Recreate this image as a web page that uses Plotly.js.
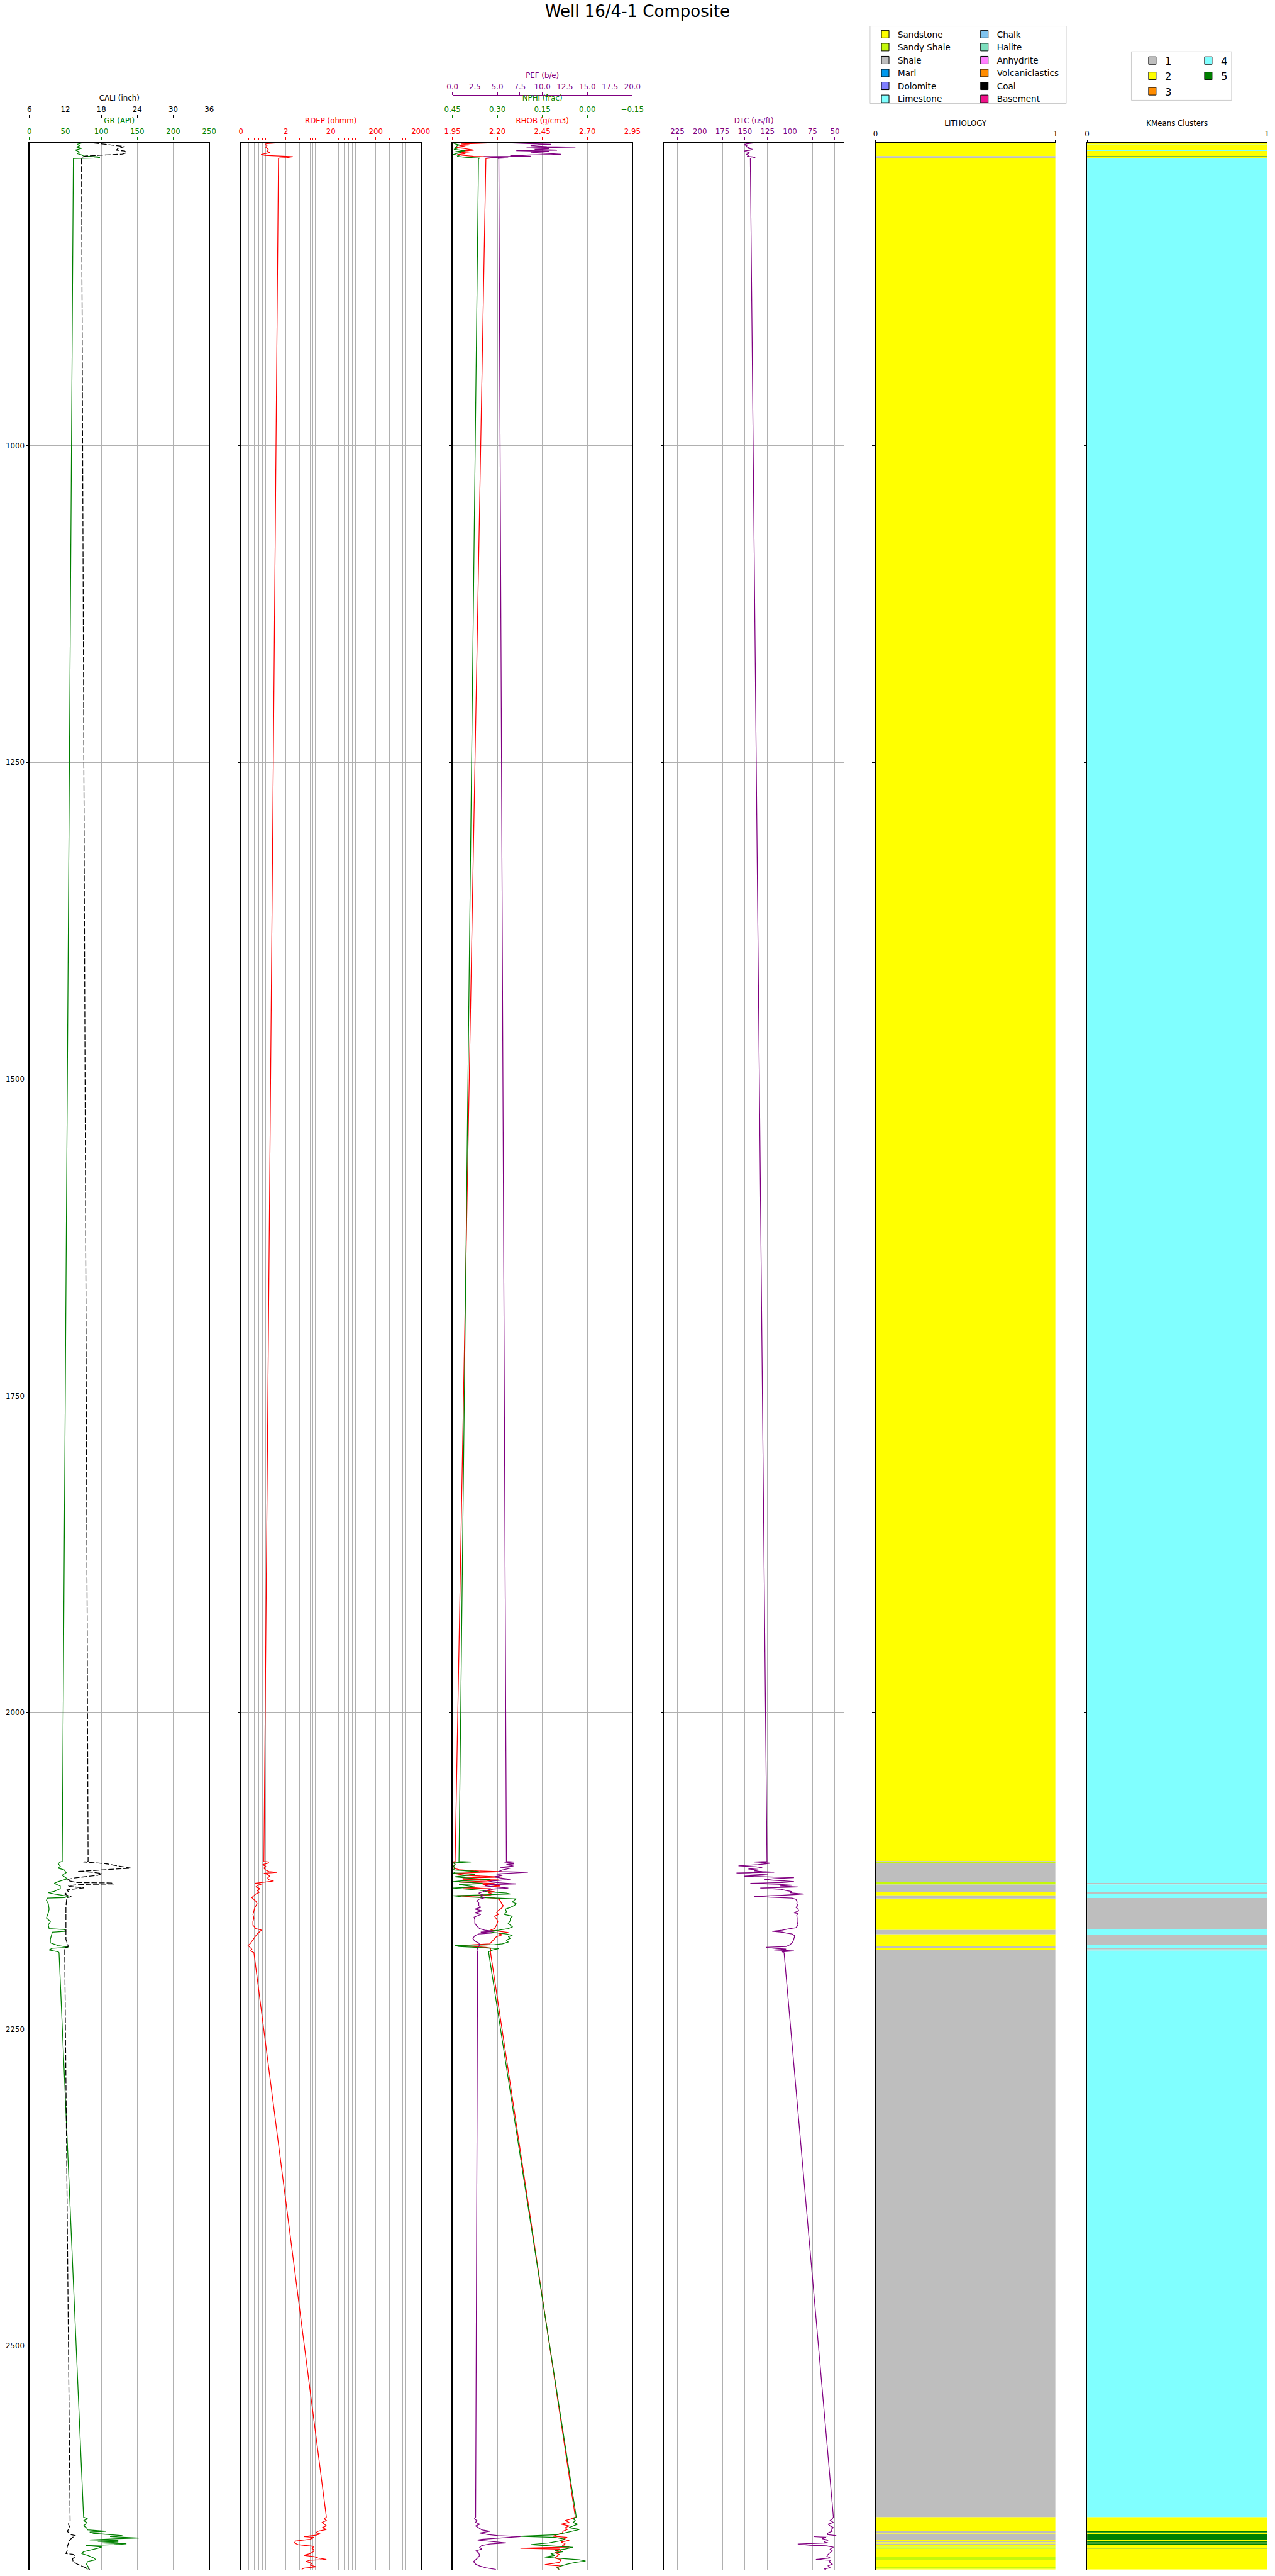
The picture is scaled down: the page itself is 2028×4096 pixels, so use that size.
<!DOCTYPE html>
<html><head><meta charset="utf-8">
<script src="https://cdn.plot.ly/plotly-3.0.1.min.js"></script>
<style>html,body{margin:0;padding:0;background:#fff}#chart{width:2028px;height:4096px}</style>
</head><body><div id="chart"></div>
<script>
// ---------------- DATA (depth m, value) ----------------
const grLog = [[761.1,72.6],[762.1,66.9],[763.2,69.7],[764.3,65.8],[765.3,72.6],[766.7,64.1],[768.1,69.7],[769.5,66.9],[770.5,72.6],[771.4,75.4],[772.0,95.2],[772.6,98.0],[773.0,90.0],[773.3,61.2],
[2117.6,45.7],[2118.0,43.0],[2119.4,40.2],[2121.5,43.0],[2122.9,40.2],[2124.3,48.5],[2126.4,51.2],[2128.5,45.7],[2131.3,52.9],[2133.5,40.2],[2134.9,34.7],[2137.0,43.0],[2139.1,43.0],[2141.2,34.7],[2142.2,26.4],[2143.3,34.7],[2144.0,43.0],[2145.1,54.0],[2146.1,48.5],[2146.5,25.3],[2148.2,23.7],[2151.0,26.4],[2155.2,27.5],[2158.0,26.4],[2162.2,23.7],[2165.0,29.2],[2167.8,26.4],[2170.6,27.5],[2171.3,48.5],[2172.7,51.2],[2173.4,31.9],[2175.5,30.8],[2179.0,29.2],[2181.9,29.2],[2184.0,40.2],[2184.7,48.5],[2185.4,54.0],[2186.1,31.9],[2187.5,27.5],[2188.9,40.2],[2189.6,41.3],
[2635.1,75.4],[2636.5,81.0],[2637.9,75.4],[2639.3,79.4],[2640.7,78.2],[2642.1,75.4],[2643.5,79.4],[2645.2,81.0],[2646.3,106.6],[2647.0,83.9],[2648.0,89.6],[2648.9,107.7],[2649.8,129.3],[2650.5,112.2],[2651.7,151.9],[2652.2,123.6],[2653.1,83.9],[2653.6,123.6],[2654.3,95.2],[2654.8,123.6],[2655.5,100.9],[2656.2,134.9],[2656.9,117.9],[2657.6,78.2],[2658.7,100.9],[2659.7,95.2],[2661.1,83.9],[2662.5,75.4],[2663.9,72.6],[2665.3,81.0],[2667.4,89.6],[2668.8,92.4],[2670.2,81.0],[2672.3,79.4],[2673.7,81.0],[2675.1,82.7],[2675.8,79.4],[2676.5,81.0]];

const caliLog = [[761.1,16.7],[761.8,18.4],[762.5,19.5],[763.9,21.9],[765.3,20.8],[766.7,20.5],[767.4,21.9],[768.8,22.2],[769.9,21.5],[770.5,18.8],[771.4,15.4],[771.9,15.0],[773.0,14.7],
[2117.6,15.8],[2118.0,15.0],[2118.7,17.1],[2119.4,18.8],[2120.8,20.4],[2122.2,22.4],[2122.9,23.0],[2123.6,20.4],[2124.3,18.4],[2125.5,14.1],[2126.0,16.4],[2127.1,18.1],[2128.5,17.4],[2129.7,15.1],[2130.6,13.5],[2131.6,12.5],[2132.5,12.3],[2134.2,13.8],[2134.6,19.7],[2135.3,20.1],[2135.8,14.5],[2136.7,12.5],[2137.4,12.8],[2138.4,15.1],[2139.1,13.8],[2140.0,12.3],[2141.4,12.5],[2143.3,11.9],[2144.7,12.5],[2145.4,13.0],[2146.1,12.3],[2148.2,12.2],[2153.8,12.1],[2162.2,12.1],[2171.3,12.1],[2179.0,12.1],[2184.7,12.5],[2185.8,11.9],[2189.6,11.9],
[2635.1,12.8],[2637.9,12.8],[2640.7,12.5],[2643.5,12.8],[2646.3,12.3],[2649.1,13.0],[2649.8,13.7],[2651.2,13.2],[2653.3,12.7],[2656.2,12.5],[2659.0,12.3],[2661.8,12.3],[2663.9,12.1],[2664.6,13.3],[2666.0,13.7],[2668.1,13.2],[2670.2,13.3],[2672.3,14.0],[2674.4,15.0],[2675.8,15.7],[2676.5,16.1]];

const rdepLog = [[761.1,1.16],[761.5,0.76],[762.1,0.69],[763.2,0.76],[764.6,0.72],[766.0,0.81],[767.4,0.76],[768.6,0.88],[769.5,0.69],[770.2,0.56],[770.9,0.69],[771.4,1.59],[771.9,2.86],[772.6,2.17],[773.0,1.43],[773.5,1.37],
[2117.6,0.65],[2118.0,0.84],[2119.0,0.79],[2120.1,0.61],[2121.5,0.71],[2122.9,0.65],[2124.3,0.71],[2125.5,0.84],[2126.2,1.26],[2126.9,0.65],[2127.8,0.79],[2129.2,0.87],[2130.6,0.79],[2132.0,0.84],[2133.0,1.07],[2133.9,0.69],[2134.9,0.41],[2135.3,0.58],[2136.3,0.48],[2137.7,0.43],[2139.1,0.53],[2140.5,0.46],[2141.9,0.51],[2143.3,0.43],[2144.7,0.39],[2146.1,0.35],[2148.9,0.43],[2151.0,0.46],[2153.8,0.41],[2156.6,0.39],[2159.4,0.37],[2162.2,0.39],[2165.0,0.37],[2167.8,0.37],[2170.6,0.43],[2171.8,0.58],[2172.7,0.53],[2174.1,0.48],[2176.2,0.43],[2178.3,0.39],[2180.5,0.35],[2182.6,0.32],[2184.0,0.29],[2185.4,0.32],[2186.8,0.35],[2188.2,0.33],[2189.6,0.39],
[2635.1,15.9],[2636.5,14.3],[2637.9,15.9],[2639.3,12.9],[2640.7,14.3],[2642.1,15.9],[2643.5,12.9],[2644.9,15.9],[2646.3,10.4],[2647.5,9.4],[2648.4,11.6],[2649.4,9.4],[2650.5,5.0],[2651.2,8.5],[2652.6,6.9],[2654.0,3.3],[2655.5,3.1],[2656.9,3.7],[2658.3,8.5],[2659.7,7.6],[2661.1,8.5],[2662.5,8.1],[2663.9,6.9],[2665.3,5.0],[2666.3,8.5],[2667.4,10.4],[2668.5,15.9],[2669.2,6.9],[2670.2,5.6],[2671.6,7.6],[2673.0,6.9],[2674.4,9.4],[2675.5,5.0],[2676.5,4.5]];

const rhobLog = [[761.1,2.147],[761.8,2.000],[762.5,2.045],[763.2,1.988],[763.9,2.022],[764.6,1.966],[765.3,2.011],[766.7,2.068],[767.4,2.000],[768.1,2.045],[768.8,1.988],[769.5,2.022],[770.2,1.977],[770.9,2.011],[771.6,2.068],[772.0,2.158],[772.6,2.181],[773.0,2.147],[773.5,2.136],
[2117.6,1.965],[2118.0,1.954],[2118.7,1.961],[2119.8,1.965],[2120.8,1.961],[2121.8,1.954],[2122.9,1.954],[2124.1,1.987],[2125.0,2.075],[2125.7,2.228],[2126.3,2.075],[2127.1,1.965],[2128.5,2.020],[2129.2,2.140],[2129.9,2.228],[2130.6,2.009],[2131.6,2.009],[2132.2,2.206],[2133.0,2.140],[2133.9,1.987],[2134.4,2.075],[2135.0,2.184],[2135.6,2.118],[2136.3,2.162],[2137.0,2.217],[2137.7,2.129],[2138.4,2.009],[2139.1,2.162],[2140.0,2.173],[2140.9,2.140],[2141.4,2.184],[2142.3,2.151],[2143.3,2.173],[2144.0,2.162],[2144.7,1.976],[2145.4,2.053],[2146.5,2.184],[2147.5,2.210],[2148.9,2.217],[2151.0,2.224],[2152.4,2.232],[2153.8,2.228],[2155.2,2.217],[2156.6,2.202],[2158.0,2.195],[2159.4,2.206],[2160.8,2.184],[2162.9,2.195],[2165.0,2.202],[2167.8,2.195],[2170.6,2.184],[2171.8,2.162],[2172.7,2.217],[2173.7,2.261],[2174.6,2.206],[2175.5,2.228],[2176.9,2.195],[2179.0,2.180],[2181.2,2.167],[2182.6,2.158],[2184.0,1.987],[2184.7,2.075],[2185.4,2.136],[2186.1,2.162],[2187.5,2.162],[2189.6,2.162],
[2635.1,2.633],[2636.5,2.611],[2637.9,2.577],[2639.3,2.599],[2640.7,2.554],[2642.1,2.599],[2643.5,2.577],[2644.9,2.588],[2646.3,2.565],[2647.7,2.561],[2649.1,2.531],[2650.3,2.509],[2651.2,2.588],[2652.6,2.565],[2653.6,2.599],[2654.8,2.554],[2656.2,2.577],[2657.6,2.561],[2658.7,2.599],[2659.7,2.328],[2660.4,2.543],[2661.8,2.554],[2663.2,2.520],[2664.6,2.543],[2666.0,2.531],[2667.4,2.520],[2668.8,2.554],[2670.9,2.543],[2672.7,2.464],[2673.7,2.554],[2675.1,2.531],[2676.5,2.543]];

const nphiLog = [[761.1,0.447],[761.8,0.440],[762.5,0.427],[763.2,0.434],[764.3,0.440],[765.3,0.434],[766.0,0.445],[767.2,0.407],[767.9,0.440],[768.6,0.420],[769.3,0.434],[770.2,0.447],[770.9,0.427],[771.6,0.434],[772.3,0.407],[773.0,0.359],[773.5,0.363],
[2117.6,0.428],[2118.0,0.388],[2118.7,0.447],[2120.1,0.441],[2121.5,0.447],[2122.9,0.441],[2124.3,0.447],[2125.5,0.362],[2126.0,0.441],[2126.9,0.447],[2127.8,0.375],[2128.8,0.408],[2129.7,0.441],[2130.6,0.401],[2131.3,0.362],[2132.0,0.323],[2132.8,0.415],[2133.5,0.447],[2134.2,0.388],[2135.0,0.349],[2135.8,0.428],[2136.7,0.401],[2137.7,0.375],[2138.6,0.447],[2139.5,0.401],[2140.5,0.349],[2141.4,0.336],[2142.6,0.270],[2143.3,0.257],[2144.0,0.375],[2144.7,0.447],[2145.4,0.421],[2146.1,0.336],[2147.1,0.237],[2148.2,0.244],[2149.6,0.250],[2151.0,0.237],[2152.4,0.244],[2153.8,0.257],[2155.2,0.273],[2157.3,0.270],[2159.4,0.277],[2160.8,0.250],[2162.2,0.257],[2164.3,0.257],[2166.4,0.264],[2167.8,0.257],[2169.2,0.250],[2170.6,0.264],[2171.8,0.296],[2172.7,0.336],[2173.7,0.310],[2174.8,0.270],[2176.0,0.250],[2176.9,0.264],[2178.3,0.257],[2179.7,0.270],[2181.2,0.264],[2182.6,0.283],[2183.3,0.310],[2184.0,0.441],[2184.7,0.428],[2185.4,0.375],[2186.3,0.296],[2187.5,0.316],[2188.9,0.329],[2189.6,0.329],
[2635.1,0.037],[2636.5,0.047],[2637.9,0.040],[2639.3,0.047],[2640.7,0.033],[2642.1,0.047],[2643.5,0.061],[2644.9,0.027],[2646.3,0.054],[2647.7,0.074],[2649.1,0.101],[2650.3,0.230],[2651.2,0.108],[2652.6,0.074],[2654.0,0.094],[2655.5,0.128],[2656.9,0.189],[2657.8,0.128],[2659.0,0.047],[2660.4,0.074],[2661.5,0.108],[2662.5,0.081],[2663.9,0.122],[2665.3,0.108],[2666.7,0.142],[2667.7,0.094],[2668.8,0.027],[2669.8,0.006],[2670.9,0.040],[2672.3,0.067],[2673.7,0.088],[2675.1,0.101],[2676.5,0.094]];

const pefLog = [[761.1,6.65],[761.5,8.69],[762.1,10.95],[762.5,9.59],[763.2,8.69],[763.9,10.50],[764.3,13.67],[764.9,8.24],[765.5,10.72],[766.0,9.14],[766.7,11.63],[767.1,7.10],[767.7,10.72],[768.3,10.05],[768.8,8.69],[769.5,10.95],[770.0,12.08],[770.5,8.69],[771.1,6.43],[771.5,8.69],[771.9,3.48],[772.3,4.16],[772.8,6.20],[773.2,5.07],[773.5,5.16],
[2117.6,6.00],[2118.0,6.87],[2118.7,5.78],[2119.4,6.87],[2120.1,6.00],[2121.2,6.78],[2122.2,5.34],[2122.9,6.43],[2124.3,5.56],[2125.5,5.12],[2126.0,8.40],[2126.6,6.65],[2127.4,4.90],[2128.5,5.56],[2129.7,4.68],[2130.6,5.34],[2131.6,6.43],[2132.8,4.68],[2133.6,4.03],[2134.4,5.12],[2135.3,7.09],[2135.8,4.24],[2136.7,3.59],[2137.7,4.68],[2138.6,6.21],[2139.5,4.24],[2140.5,3.81],[2141.4,3.37],[2142.6,2.93],[2144.0,3.37],[2145.1,3.15],[2146.1,3.59],[2147.5,2.93],[2148.9,2.71],[2150.3,2.93],[2152.4,2.93],[2153.8,3.15],[2155.2,2.49],[2156.6,3.28],[2158.0,2.49],[2159.4,3.15],[2161.5,2.41],[2163.6,2.49],[2166.4,2.49],[2168.5,2.71],[2170.6,3.02],[2171.8,3.59],[2172.7,4.68],[2173.4,3.15],[2174.1,4.46],[2174.8,2.93],[2176.2,2.49],[2178.3,2.28],[2180.5,2.49],[2181.9,2.93],[2183.3,3.02],[2184.7,2.93],[2186.1,2.84],[2187.5,2.71],[2188.9,2.80],[2189.6,2.80],
[2635.1,2.58],[2636.5,2.44],[2637.9,2.72],[2639.3,2.58],[2640.7,3.03],[2642.1,2.58],[2643.5,2.90],[2645.2,3.26],[2646.3,4.16],[2647.7,3.03],[2648.9,3.94],[2649.8,5.07],[2650.5,7.56],[2651.2,5.97],[2652.6,3.26],[2653.3,2.81],[2654.8,5.29],[2655.5,5.97],[2656.4,4.16],[2657.6,3.26],[2659.0,3.03],[2660.4,3.26],[2661.8,2.58],[2663.2,2.90],[2665.3,3.03],[2667.4,2.81],[2668.8,2.58],[2670.2,2.35],[2672.3,2.58],[2673.7,3.03],[2675.1,3.71],[2675.8,4.16],[2676.5,4.84]];

const dtcLog = [[761.1,140.9],[761.8,149.0],[762.5,150.8],[763.2,147.6],[763.9,149.0],[764.6,145.4],[765.3,146.3],[766.0,141.8],[766.7,144.5],[767.4,150.8],[768.1,147.6],[768.8,145.4],[769.5,146.3],[770.2,149.0],[770.9,145.4],[771.6,147.6],[772.0,141.8],[772.6,138.6],[773.0,143.1],[773.5,144.0],
[2117.6,125.5],[2118.0,139.6],[2118.4,128.6],[2119.0,122.0],[2119.4,126.4],[2120.1,135.2],[2121.1,157.2],[2121.8,137.4],[2122.6,130.8],[2123.6,146.2],[2124.3,135.2],[2125.0,139.6],[2125.5,130.8],[2126.0,117.5],[2126.7,159.4],[2127.3,139.6],[2128.1,124.2],[2129.2,150.6],[2129.9,117.5],[2130.4,95.5],[2131.1,117.5],[2132.0,128.6],[2132.8,108.7],[2133.5,95.5],[2134.2,108.7],[2134.9,144.0],[2135.6,113.1],[2136.3,97.7],[2137.0,110.9],[2137.7,91.1],[2138.6,133.0],[2139.5,110.9],[2140.5,104.3],[2141.4,97.7],[2142.3,99.9],[2143.3,84.5],[2144.3,108.7],[2145.1,139.6],[2145.8,122.0],[2146.5,97.7],[2147.5,93.3],[2149.6,92.0],[2151.0,92.4],[2152.4,91.1],[2153.8,93.3],[2155.2,91.1],[2156.6,90.2],[2158.0,95.5],[2158.7,91.1],[2160.1,92.4],[2162.2,92.0],[2165.0,92.0],[2167.8,91.1],[2169.9,93.3],[2170.6,99.9],[2171.8,108.7],[2172.7,119.7],[2173.4,108.7],[2174.1,104.3],[2174.8,97.7],[2176.2,94.6],[2178.3,95.5],[2180.5,96.4],[2181.9,97.7],[2183.3,99.9],[2184.7,104.3],[2185.4,126.4],[2186.1,117.5],[2186.8,104.3],[2187.5,117.5],[2188.2,95.5],[2188.9,108.7],[2189.6,106.5],
[2635.1,51.7],[2636.5,53.0],[2637.9,55.3],[2639.3,51.7],[2640.7,57.6],[2642.1,55.3],[2643.5,51.7],[2644.9,54.4],[2646.3,53.0],[2647.7,57.6],[2648.9,58.9],[2649.8,48.5],[2650.5,73.3],[2651.2,59.8],[2652.2,64.3],[2653.3,57.6],[2654.8,62.1],[2655.5,57.6],[2656.4,91.3],[2657.3,77.8],[2657.8,59.8],[2658.9,51.7],[2660.4,55.3],[2661.8,53.0],[2663.2,55.3],[2664.6,57.6],[2666.0,58.9],[2667.4,55.3],[2668.5,71.1],[2669.2,55.3],[2670.5,56.2],[2672.3,53.0],[2673.7,57.6],[2675.1,55.3],[2676.1,62.1],[2676.5,59.8]];

// Lithology intervals: boundaries (n+1) and lithology of each interval (n)
const lithBounds = [761.0,771.4,773.0,2117.3,2118.0,2119.0,2133.7,2135.8,2141.7,2144.3,2146.8,2171.6,2175.0,2184.2,2185.9,2187.6,2635.1,2646.1,2647.7,2648.3,2653.2,2654.0,2655.0,2656.2,2657.3,2658.5,2659.0,2659.3,2660.2,2666.3,2669.2,2674.7,2675.8,2676.5];
const lithCodes = ['Sandstone','Shale','Sandstone','Shale','Sandy Shale','Shale','Sandy Shale','Shale','Sandstone','Shale','Sandstone','Shale','Sandstone','Shale','Sandstone','Shale','Sandstone','Shale','Sandstone','Shale','Sandstone','Shale','Sandstone','Shale','Sandstone','Sandy Shale','Sandstone','Sandy Shale','Sandstone','Sandy Shale','Sandstone','Sandy Shale','Sandstone'];
const lithNames = ['Sandstone','Sandy Shale','Shale','Marl','Dolomite','Limestone','Chalk','Halite','Anhydrite','Volcaniclastics','Coal','Basement'];
const lithColors = ['#ffff00','#c4f80a','#bebebe','#0099ee','#8080ff','#80ffff','#80c4f0','#7ddfbe','#ff80ff','#ff8c00','#000000','#ef138a'];

// KMeans clusters: boundaries and cluster of each interval
const clusterBounds = [761.0,762.2,762.9,766.6,767.3,771.5,772.2,773.0,2134.6,2135.0,2135.3,2135.7,2141.7,2143.4,2146.4,2171.2,2175.4,2183.4,2185.9,2187.0,2187.5,2187.9,2635.1,2646.3,2647.2,2648.6,2653.2,2653.9,2655.2,2656.0,2656.9,2659.5,2659.9,2676.5];
const clusterCodes = [2,4,2,4,2,5,2,4,1,4,1,4,1,4,1,4,1,4,1,4,1,4,2,5,2,5,2,5,2,5,2,5,2];
const clusterNames = ['1','2','3','4','5'];
const clusterColors = ['#bebebe','#ffff00','#ff8c00','#80ffff','#008000'];

const depthTicks = [1000,1250,1500,1750,2000,2250,2500];
const depthRange = [2676.5, 761.0];

// ---------------- GEOMETRY (reference px, scaled) ----------------
const S = 0.848, W = 2028, H = 4096;
const fx = v => v * S / W;
const fy = v => 1 - v * S / H;
const trackLeft = [55, 451.8, 848.6, 1245.4, 1642.2, 2039.0];
const trackW = 337.5;
const dom = i => [fx(trackLeft[i]), fx(trackLeft[i] + trackW)];
const frameTop = 268, frameBottom = 4818;
const rowA = 262, rowB = 220, rowC = 178;
const FONT = 'DejaVu Sans';
const TF = 11.8;
const GRID = '#b0b0b0';

const layout = {
  width: W, height: H,
  margin: {l:0, r:0, t:0, b:0},
  paper_bgcolor: '#ffffff', plot_bgcolor: 'rgba(0,0,0,0)',
  font: {family: FONT, size: TF, color: '#000'},
  showlegend: true, hovermode: false, barmode: 'overlay',
  title: {text: 'Well 16/4-1 Composite', x: 0.5, xanchor: 'center', xref: 'paper',
          y: 1 - 21 * S / H, yanchor: 'middle', yref: 'container',
          font: {family: FONT, size: 26, color: '#000'}},
  shapes: []
};

const baseGrid = [
  {range: [0, 250], type: 'linear', grid: [50, 100, 150, 200]},
  {range: [Math.log10(0.2), Math.log10(2000)], type: 'log',
   grid: [0.3,0.4,0.5,0.6,0.7,0.8,0.9,2,3,4,5,6,7,8,9,20,30,40,50,60,70,80,90,200,300,400,500,600,700,800,900]},
  {range: [1.95, 2.95], type: 'linear', grid: [2.2, 2.45, 2.7]},
  {range: [240, 40], type: 'linear', grid: [225,200,175,150,125,100,75,50]},
  {range: [0, 1], type: 'linear', grid: []},
  {range: [0, 1], type: 'linear', grid: []}
];
const trackTitles = [null, null, null, null, 'LITHOLOGY', 'KMeans Clusters'];

for (let i = 0; i < 6; i++) {
  const n = i === 0 ? '' : String(i + 1);
  const xa = {
    domain: dom(i), anchor: 'y' + n, range: baseGrid[i].range, type: baseGrid[i].type,
    showline: true, linecolor: '#000', linewidth: 1.2, mirror: true,
    zeroline: false, fixedrange: true
  };
  if (i < 4) {
    Object.assign(xa, {tickmode: 'array', tickvals: baseGrid[i].grid, ticks: '',
      showticklabels: false, showgrid: true, gridcolor: GRID, gridwidth: 1});
  } else {
    Object.assign(xa, {side: 'top', tickmode: 'array', tickvals: [0, 1], ticktext: ['0', '1'],
      ticks: 'outside', ticklen: 4, tickwidth: 1, tickcolor: '#000', showgrid: false,
      tickfont: {size: TF, color: '#000'},
      title: {text: trackTitles[i], font: {size: TF, color: '#000'}, standoff: 3}});
  }
  layout['xaxis' + n] = xa;
  layout['yaxis' + n] = {
    domain: [fy(frameBottom), fy(frameTop)], anchor: 'x' + n,
    range: depthRange, autorange: false,
    showline: true, linecolor: '#000', linewidth: 1.2, mirror: true,
    ticks: 'outside', ticklen: 4, tickwidth: 1, tickcolor: '#000',
    tickmode: 'array', tickvals: depthTicks, showticklabels: i === 0,
    tickfont: {size: TF, color: '#000'},
    showgrid: i < 4, gridcolor: GRID, gridwidth: 1, zeroline: false, fixedrange: true
  };
}

function topAxis(track, row, range, type, tickvals, ticktext, color, title, minor) {
  const base = track === 0 ? 'x' : 'x' + (track + 1);
  const a = {
    overlaying: base, domain: dom(track), anchor: 'free', position: fy(row), side: 'top',
    range: range, type: type, autorange: false,
    tickmode: 'array', tickvals: tickvals, ticktext: ticktext,
    showline: true, linecolor: color, linewidth: 1.2,
    ticks: 'outside', ticklen: 4, tickwidth: 1, tickcolor: color,
    tickfont: {size: TF, color: color}, showgrid: false, zeroline: false,
    title: {text: title, font: {size: TF, color: color}, standoff: 2},
    fixedrange: true
  };
  if (minor) a.minor = minor;
  return a;
}
layout.xaxis7 = topAxis(0, rowA, [0, 250], 'linear', [0,50,100,150,200,250], ['0','50','100','150','200','250'], 'green', 'GR (API)');
layout.xaxis8 = topAxis(0, rowB, [6, 36], 'linear', [6,12,18,24,30,36], ['6','12','18','24','30','36'], 'black', 'CALI (inch)');
layout.xaxis9 = topAxis(1, rowA, [Math.log10(0.2), Math.log10(2000)], 'log', [0.2,2,20,200,2000], ['0','2','20','200','2000'], 'red', 'RDEP (ohmm)',
  {tickmode: 'array', tickvals: [0.3,0.4,0.5,0.6,0.7,0.8,0.9,3,4,5,6,7,8,9,30,40,50,60,70,80,90,300,400,500,600,700,800,900],
   ticks: 'outside', ticklen: 2.4, tickwidth: 1, tickcolor: 'red', showgrid: false});
layout.xaxis10 = topAxis(2, rowA, [1.95, 2.95], 'linear', [1.95,2.2,2.45,2.7,2.95], ['1.95','2.20','2.45','2.70','2.95'], 'red', 'RHOB (g/cm3)');
layout.xaxis11 = topAxis(2, rowB, [0.45, -0.15], 'linear', [0.45,0.3,0.15,0,-0.15], ['0.45','0.30','0.15','0.00','\u22120.15'], 'green', 'NPHI (frac)');
layout.xaxis12 = topAxis(2, rowC, [0, 20], 'linear', [0,2.5,5,7.5,10,12.5,15,17.5,20], ['0.0','2.5','5.0','7.5','10.0','12.5','15.0','17.5','20.0'], 'purple', 'PEF (b/e)');
layout.xaxis13 = topAxis(3, rowA, [240, 40], 'linear', [225,200,175,150,125,100,75,50], ['225','200','175','150','125','100','75','50'], 'purple', 'DTC (us/ft)');

// ---------------- TRACES ----------------
const traces = [];
// register the framed base subplot of each log track (draws nothing)
['', '2', '3', '4'].forEach(n => traces.push({type: 'scatter', mode: 'none', x: [], y: [],
  xaxis: 'x' + n, yaxis: 'y' + n, showlegend: false, hoverinfo: 'skip'}));

function curve(pairs, xa, ya, color, dash) {
  return {type: 'scatter', mode: 'lines', x: pairs.map(p => p[1]), y: pairs.map(p => p[0]),
    xaxis: xa, yaxis: ya, line: {color: color, width: 1.3, dash: dash || 'solid'},
    showlegend: false, hoverinfo: 'skip'};
}
traces.push(curve(grLog, 'x7', 'y', 'green'));
traces.push(curve(caliLog, 'x8', 'y', 'black', '9px,3px'));
traces.push(curve(rdepLog, 'x9', 'y2', 'red'));
traces.push(curve(rhobLog, 'x10', 'y3', 'red'));
traces.push(curve(nphiLog, 'x11', 'y3', 'green'));
traces.push(curve(pefLog, 'x12', 'y3', 'purple'));
traces.push(curve(dtcLog, 'x13', 'y4', 'purple'));

function intervalBars(bounds, codes, code, color, xa, ya) {
  const x = [], y = [], w = [];
  codes.forEach((c, i) => {
    if (c === code) { y.push((bounds[i] + bounds[i + 1]) / 2); w.push(bounds[i + 1] - bounds[i]); x.push(1); }
  });
  return {type: 'bar', orientation: 'h', x: x, y: y, width: w, base: 0,
    marker: {color: color, line: {width: 0}}, xaxis: xa, yaxis: ya,
    showlegend: false, hoverinfo: 'skip'};
}
lithNames.forEach((nm, k) => {
  if (lithCodes.indexOf(nm) >= 0) traces.push(intervalBars(lithBounds, lithCodes, nm, lithColors[k], 'x5', 'y5'));
});
clusterNames.forEach((nm, k) => {
  const code = k + 1;
  if (clusterCodes.indexOf(code) >= 0) traces.push(intervalBars(clusterBounds, clusterCodes, code, clusterColors[k], 'x6', 'y6'));
});

// legend entries (matplotlib-style 2-column legends); zero-length bars, never visible
function legendEntry(name, color, leg, xa, ya, y0) {
  return {type: 'bar', orientation: 'h', x: [0], y: [y0], base: 0, width: [0.1], name: name, legend: leg,
    marker: {color: color, line: {color: '#000', width: 1}}, xaxis: xa, yaxis: ya,
    showlegend: true, hoverinfo: 'skip'};
}
lithNames.forEach((nm, k) => traces.push(legendEntry(nm, lithColors[k], k < 6 ? 'legend' : 'legend2', 'x5', 'y5', lithBounds[0])));
clusterNames.forEach((nm, k) => traces.push(legendEntry(nm, clusterColors[k], k < 3 ? 'legend3' : 'legend4', 'x6', 'y6', clusterBounds[0])));

function legendBox(leftTextPx, firstRowPx, fontSize, halfRow) {
  return {x: (leftTextPx * S - 40) / W, y: 1 - (firstRowPx * S - halfRow) / H,
    xanchor: 'left', yanchor: 'top', orientation: 'v', bgcolor: 'rgba(0,0,0,0)', borderwidth: 0,
    font: {family: FONT, size: fontSize, color: '#000'}, traceorder: 'normal', tracegroupgap: 0,
    itemclick: false, itemdoubleclick: false};
}
layout.legend = legendBox(1684, 62, 13.5, 13.5);
layout.legend2 = legendBox(1870, 62, 13.5, 13.5);
layout.legend3 = legendBox(2185, 112, 16.5, 16);
layout.legend4 = legendBox(2290, 112, 16.5, 16);

layout.shapes.push({type: 'rect', xref: 'paper', yref: 'paper', x0: fx(1632), x1: fx(2000), y0: fy(194), y1: fy(49),
  line: {color: '#cccccc', width: 1}, fillcolor: '#ffffff', layer: 'below'});
layout.shapes.push({type: 'rect', xref: 'paper', yref: 'paper', x0: fx(2122), x1: fx(2310), y0: fy(188), y1: fy(97),
  line: {color: '#cccccc', width: 1}, fillcolor: '#ffffff', layer: 'below'});

Plotly.newPlot('chart', traces, layout, {staticPlot: true, displayModeBar: false});
</script></body></html>
